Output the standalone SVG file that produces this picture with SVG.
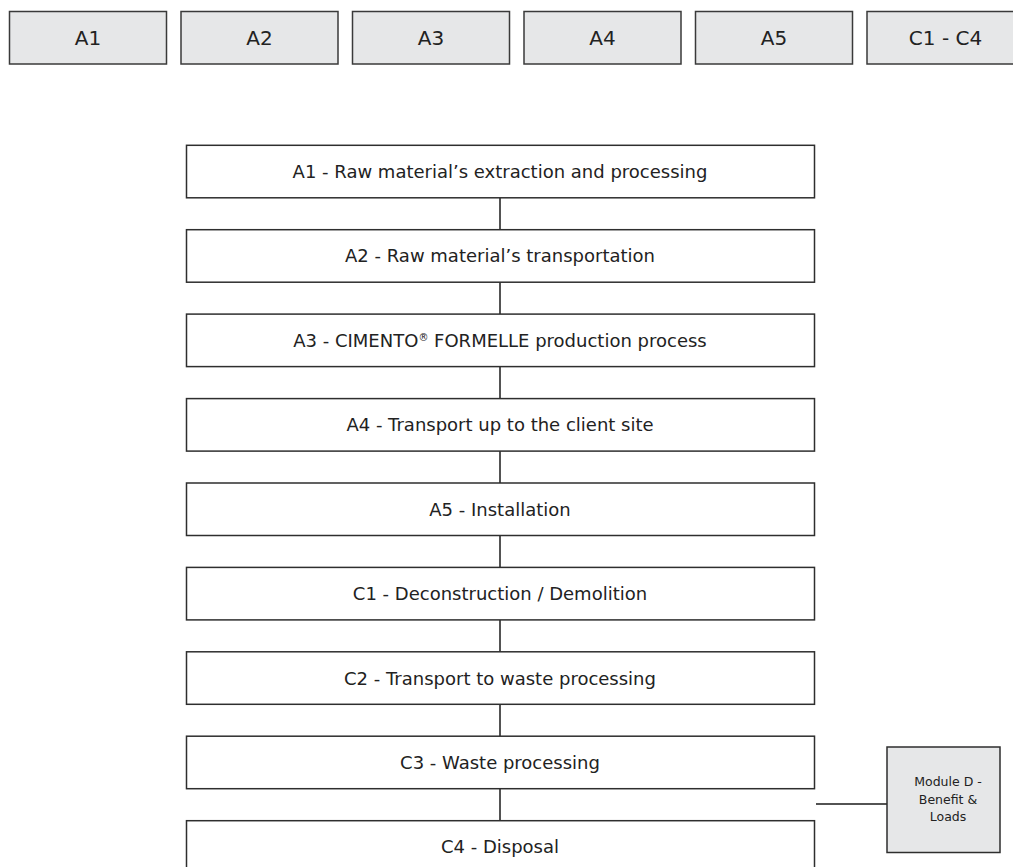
<svg xmlns="http://www.w3.org/2000/svg" width="1013" height="867" viewBox="0 0 1013 867">
<style>
.bg{fill:#ffffff}
.hdr{fill:#e6e7e8;stroke:#3a3a3a;stroke-width:1.5}
.box{fill:#ffffff;stroke:#2e2e2e;stroke-width:1.5}
.mod{fill:#e6e7e8;stroke:#2e2e2e;stroke-width:1.5}
.ht{font-family:"DejaVu Sans",sans-serif;font-size:20px;fill:#222;text-anchor:middle}
.bt{font-family:"DejaVu Sans",sans-serif;font-size:18px;fill:#222;text-anchor:middle}
.mt{font-family:"DejaVu Sans",sans-serif;font-size:12.5px;fill:#222;text-anchor:middle}
.con{stroke:#1a1a1a;stroke-width:1.5;fill:none}
</style>
<rect class="bg" x="0" y="0" width="1013" height="867"/>
<g id="header-a1"><rect class="hdr" x="9.5" y="11.5" width="157" height="52.5"/><text class="ht" x="88" y="45">A1</text></g>
<g id="header-a2"><rect class="hdr" x="181" y="11.5" width="157" height="52.5"/><text class="ht" x="259.5" y="45">A2</text></g>
<g id="header-a3"><rect class="hdr" x="352.5" y="11.5" width="157" height="52.5"/><text class="ht" x="431" y="45">A3</text></g>
<g id="header-a4"><rect class="hdr" x="524" y="11.5" width="157" height="52.5"/><text class="ht" x="602.5" y="45">A4</text></g>
<g id="header-a5"><rect class="hdr" x="695.5" y="11.5" width="157" height="52.5"/><text class="ht" x="774" y="45">A5</text></g>
<g id="header-c1c4"><rect class="hdr" x="867" y="11.5" width="157" height="52.5"/><text class="ht" x="945.5" y="45">C1 - C4</text></g>

<g id="connectors">
<line class="con" x1="500" y1="197.8" x2="500" y2="229.7"/>
<line class="con" x1="500" y1="282.2" x2="500" y2="314.1"/>
<line class="con" x1="500" y1="366.6" x2="500" y2="398.6"/>
<line class="con" x1="500" y1="451.1" x2="500" y2="483"/>
<line class="con" x1="500" y1="535.5" x2="500" y2="567.4"/>
<line class="con" x1="500" y1="619.9" x2="500" y2="651.8"/>
<line class="con" x1="500" y1="704.3" x2="500" y2="736.2"/>
<line class="con" x1="500" y1="788.7" x2="500" y2="820.7"/>
<line class="con" x1="816" y1="804" x2="887" y2="804"/>
</g>

<g id="a1"><rect class="box" x="186.5" y="145.3" width="628" height="52.5"/><text class="bt" x="500" y="178">A1 - Raw material’s extraction and processing</text></g>
<g id="a2"><rect class="box" x="186.5" y="229.7" width="628" height="52.5"/><text class="bt" x="500" y="262.4">A2 - Raw material’s transportation</text></g>
<g id="a3"><rect class="box" x="186.5" y="314.1" width="628" height="52.5"/><text class="bt" x="500" y="346.8">A3 - CIMENTO<tspan font-size="10" dy="-6">®</tspan><tspan dy="6"> FORMELLE production process</tspan></text></g>
<g id="a4"><rect class="box" x="186.5" y="398.6" width="628" height="52.5"/><text class="bt" x="500" y="431.3">A4 - Transport up to the client site</text></g>
<g id="a5"><rect class="box" x="186.5" y="483" width="628" height="52.5"/><text class="bt" x="500" y="515.7">A5 - Installation</text></g>
<g id="c1"><rect class="box" x="186.5" y="567.4" width="628" height="52.5"/><text class="bt" x="500" y="600.1">C1 - Deconstruction / Demolition</text></g>
<g id="c2"><rect class="box" x="186.5" y="651.8" width="628" height="52.5"/><text class="bt" x="500" y="684.5">C2 - Transport to waste processing</text></g>
<g id="c3"><rect class="box" x="186.5" y="736.2" width="628" height="52.5"/><text class="bt" x="500" y="768.9">C3 - Waste processing</text></g>
<g id="c4"><rect class="box" x="186.5" y="820.7" width="628" height="52.5"/><text class="bt" x="500" y="853.4">C4 - Disposal</text></g>

<g id="module-d"><rect class="mod" x="887" y="747" width="113" height="105.5"/>
<text class="mt" x="948" y="786">Module D -</text>
<text class="mt" x="948" y="803.5">Benefit &amp;</text>
<text class="mt" x="948" y="821">Loads</text></g>
</svg>
